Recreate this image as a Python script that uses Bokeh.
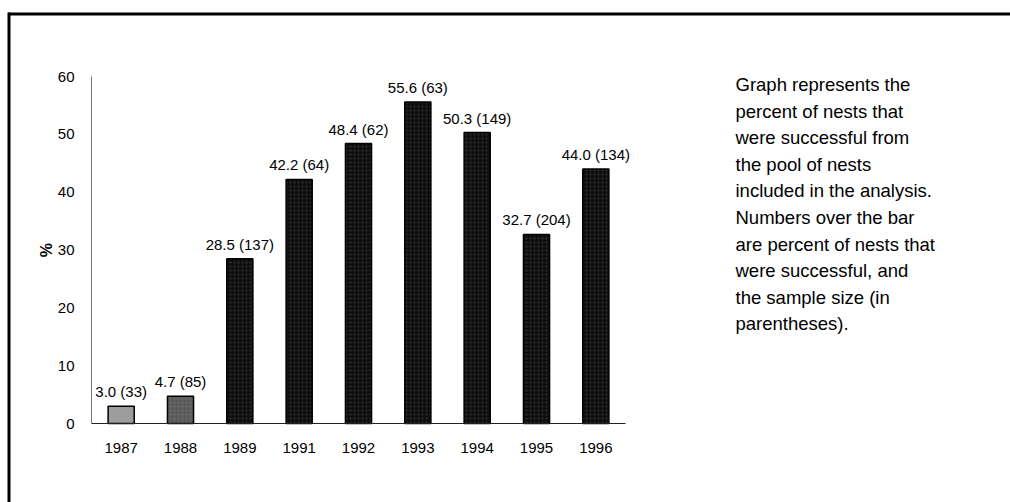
from bokeh.plotting import figure
from bokeh.models import (ColumnDataSource, LabelSet, Label, BoxAnnotation, Range1d,
                          LinearAxis, FixedTicker)
from bokeh.core.properties import value
from bokeh.embed import file_html
from bokeh.resources import INLINE

years = ["1987", "1988", "1989", "1991", "1992", "1993", "1994", "1995", "1996"]
percent = [3.0, 4.7, 28.5, 42.2, 48.4, 55.6, 50.3, 32.7, 44.0]
sample = [33, 85, 137, 64, 62, 63, 149, 204, 134]
y_ticks = [0, 10, 20, 30, 40, 50, 60]
note_lines = [
    "Graph represents the",
    "percent of nests that",
    "were successful from",
    "the pool of nests",
    "included in the analysis.",
    "Numbers over the bar",
    "are percent of nests that",
    "were successful, and",
    "the sample size (in",
    "parentheses).",
]

FONT = "Liberation Sans"
W, H = 1010, 502

# layout of the plotting area in canvas pixels
AX_LEFT, AX_RIGHT = 91, 625     # left / right end of the category band
AX_ZERO, AX_TOP = 423, 76       # pixel row of 0 % and of 60 %
n = len(years)
slot = (AX_RIGHT - AX_LEFT) / n
ppu = (AX_ZERO - AX_TOP) / 60.0
x_start = -0.5 - AX_LEFT / slot
x_end = n - 0.5 + (W - AX_RIGHT) / slot
y_end = 60 + AX_TOP / ppu
y_start = -(H - AX_ZERO) / ppu

idx = list(range(n))
labels = [f"{v:.1f} ({s})" for v, s in zip(percent, sample)]
fills = ["#9c9c9c", "#5a5a5a"] + ["#0e0e0e"] * (n - 2)
src = ColumnDataSource(dict(x=idx, pct=percent, lab=labels, fill=fills))

p = figure(width=W, height=H,
           x_range=Range1d(x_start, x_end), y_range=Range1d(y_start, y_end),
           x_axis_type=None, y_axis_type=None,
           output_backend="svg", toolbar_location=None, min_border=0)
p.outline_line_color = None
p.grid.grid_line_color = None
p.background_fill_color = "white"
p.border_fill_color = "white"

p.vbar(x="x", top="pct", width=0.44, source=src,
       fill_color="fill", line_color="black", line_width=1.5,
       hatch_pattern="dot", hatch_color="#b0b0b0", hatch_alpha=0.22, hatch_scale=4)

p.add_layout(LabelSet(x="x", y="pct", text="lab", source=src,
                      text_align="center", text_baseline="alphabetic", y_offset=9,
                      text_font=value(FONT), text_font_size="15px", text_color="black"))

xaxis = LinearAxis(fixed_location=0, bounds=(-0.5, n - 0.5),
                   ticker=FixedTicker(ticks=idx),
                   major_label_overrides={i: y for i, y in enumerate(years)})
xaxis.axis_line_color = "#222222"
xaxis.axis_line_width = 1.2
xaxis.major_tick_line_color = None
xaxis.minor_tick_line_color = None
xaxis.major_label_standoff = 13
p.add_layout(xaxis, "below")

yaxis = LinearAxis(fixed_location=-0.5, bounds=(0, 60),
                   ticker=FixedTicker(ticks=y_ticks), axis_label="%")
yaxis.axis_line_color = "#777777"
yaxis.axis_line_width = 1
yaxis.major_tick_line_color = None
yaxis.minor_tick_line_color = None
yaxis.major_label_standoff = 11
yaxis.axis_label_text_font = FONT
yaxis.axis_label_text_font_size = "16px"
yaxis.axis_label_text_font_style = "bold"
yaxis.axis_label_text_color = "black"
yaxis.axis_label_standoff = 0
p.add_layout(yaxis, "left")

for ax in (xaxis, yaxis):
    ax.major_label_text_font = FONT
    ax.major_label_text_font_size = "15px"
    ax.major_label_text_color = "black"

# explanatory note on the right
for i, line in enumerate(note_lines):
    p.add_layout(Label(x=735, y=H - (84 + i * 26.6), x_units="screen", y_units="screen",
                       text=line, text_font=FONT, text_font_size="18.5px",
                       text_baseline="middle", text_align="left", text_color="black"))

# page border: top and left rules
p.add_layout(BoxAnnotation(left=8, right=W, top=H - 12, bottom=H - 15,
                           left_units="screen", right_units="screen",
                           top_units="screen", bottom_units="screen",
                           fill_color="black", fill_alpha=1, line_color=None))
p.add_layout(BoxAnnotation(left=7, right=10, top=H - 12, bottom=0,
                           left_units="screen", right_units="screen",
                           top_units="screen", bottom_units="screen",
                           fill_color="black", fill_alpha=1, line_color=None))

open("out.html", "w").write(file_html(p, INLINE))
